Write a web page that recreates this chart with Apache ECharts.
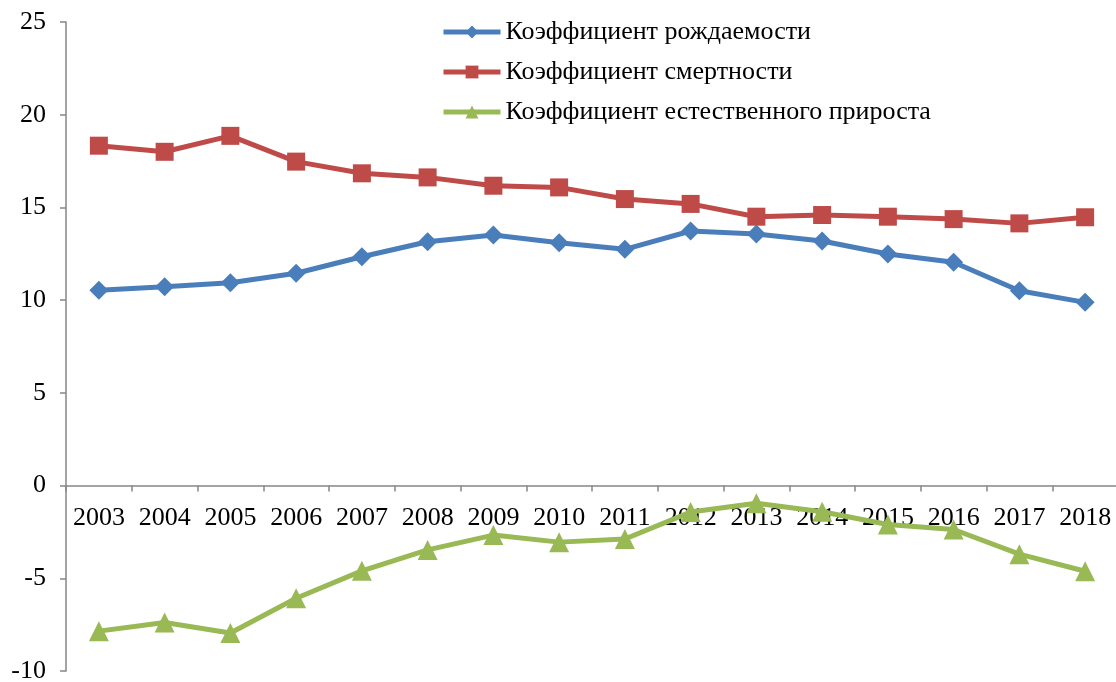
<!DOCTYPE html>
<html>
<head>
<meta charset="utf-8">
<script src="https://cdn.jsdelivr.net/npm/echarts@6/dist/echarts.min.js"></script>
<style>html,body{margin:0;padding:0;background:#fff}#c{width:1116px;height:682px}</style>
</head>
<body>
<div id="c"></div>
<script>
var years = ['2003','2004','2005','2006','2007','2008','2009','2010','2011','2012','2013','2014','2015','2016','2017','2018'];
var birthRate = [10.54, 10.72, 10.94, 11.45, 12.34, 13.15, 13.51, 13.10, 12.74, 13.73, 13.57, 13.19, 12.49, 12.04, 10.51, 9.88];
var deathRate = [18.33, 18.00, 18.86, 17.47, 16.84, 16.62, 16.17, 16.08, 15.45, 15.19, 14.50, 14.59, 14.50, 14.37, 14.14, 14.47];
var naturalIncrease = [-7.85, -7.38, -7.95, -6.08, -4.60, -3.47, -2.67, -3.05, -2.88, -1.43, -0.95, -1.41, -2.10, -2.37, -3.70, -4.62];
var seriesNames = ['Коэффициент рождаемости', 'Коэффициент смертности', 'Коэффициент естественного прироста'];

var yMin = -10, yMax = 25;
var gridTop = 22, gridBottom = 11, H = 682;
var plotH = H - gridTop - gridBottom;
var zeroOffset = -plotH * (0 - yMin) / (yMax - yMin);

var font = 'Liberation Serif, Times New Roman, serif';
var chart = echarts.init(document.getElementById('c'), null, {renderer: 'canvas'});
chart.setOption({
  animation: false,
  backgroundColor: '#ffffff',
  grid: {left: 66, right: -2, top: gridTop, bottom: gridBottom, containLabel: false, outerBoundsMode: 'none'},
  legend: {
    orient: 'vertical',
    left: 441,
    top: 19,
    padding: 0,
    itemWidth: 57,
    itemHeight: 16,
    itemGap: 14,
    lineStyle: {width: 5},
    textStyle: {fontFamily: font, fontSize: 26, color: '#000', lineHeight: 26},
    data: seriesNames
  },
  xAxis: [{
    type: 'category',
    data: years,
    boundaryGap: true,
    axisLine: {onZero: true, lineStyle: {color: '#868686', width: 1.5}},
    axisTick: {show: true, length: 6, lineStyle: {color: '#868686', width: 1.5}},
    axisLabel: {show: false},
    splitLine: {show: false}
  }, {
    type: 'category',
    data: years,
    position: 'bottom',
    offset: zeroOffset,
    boundaryGap: true,
    axisLine: {show: false, onZero: false},
    axisTick: {show: false},
    axisLabel: {fontFamily: font, fontSize: 26, color: '#000', margin: 20, interval: 0},
    splitLine: {show: false}
  }],
  yAxis: {
    type: 'value',
    min: yMin,
    max: yMax,
    interval: 5,
    axisLine: {show: true, lineStyle: {color: '#868686', width: 1.5}},
    axisTick: {show: true, length: 6, lineStyle: {color: '#868686', width: 1.5}},
    axisLabel: {fontFamily: font, fontSize: 26, color: '#000', margin: 20},
    splitLine: {show: false}
  },
  series: [
    {
      name: seriesNames[0], type: 'line', data: birthRate,
      symbol: 'diamond', symbolSize: 19,
      lineStyle: {color: '#4A7EBB', width: 5},
      itemStyle: {color: '#4A7EBB'}
    },
    {
      name: seriesNames[1], type: 'line', data: deathRate,
      symbol: 'rect', symbolSize: 18,
      lineStyle: {color: '#BE4B48', width: 5},
      itemStyle: {color: '#BE4B48'}
    },
    {
      name: seriesNames[2], type: 'line', data: naturalIncrease,
      symbol: 'triangle', symbolSize: 20,
      lineStyle: {color: '#98B954', width: 5},
      itemStyle: {color: '#98B954'}
    }
  ]
});
</script>
</body>
</html>
